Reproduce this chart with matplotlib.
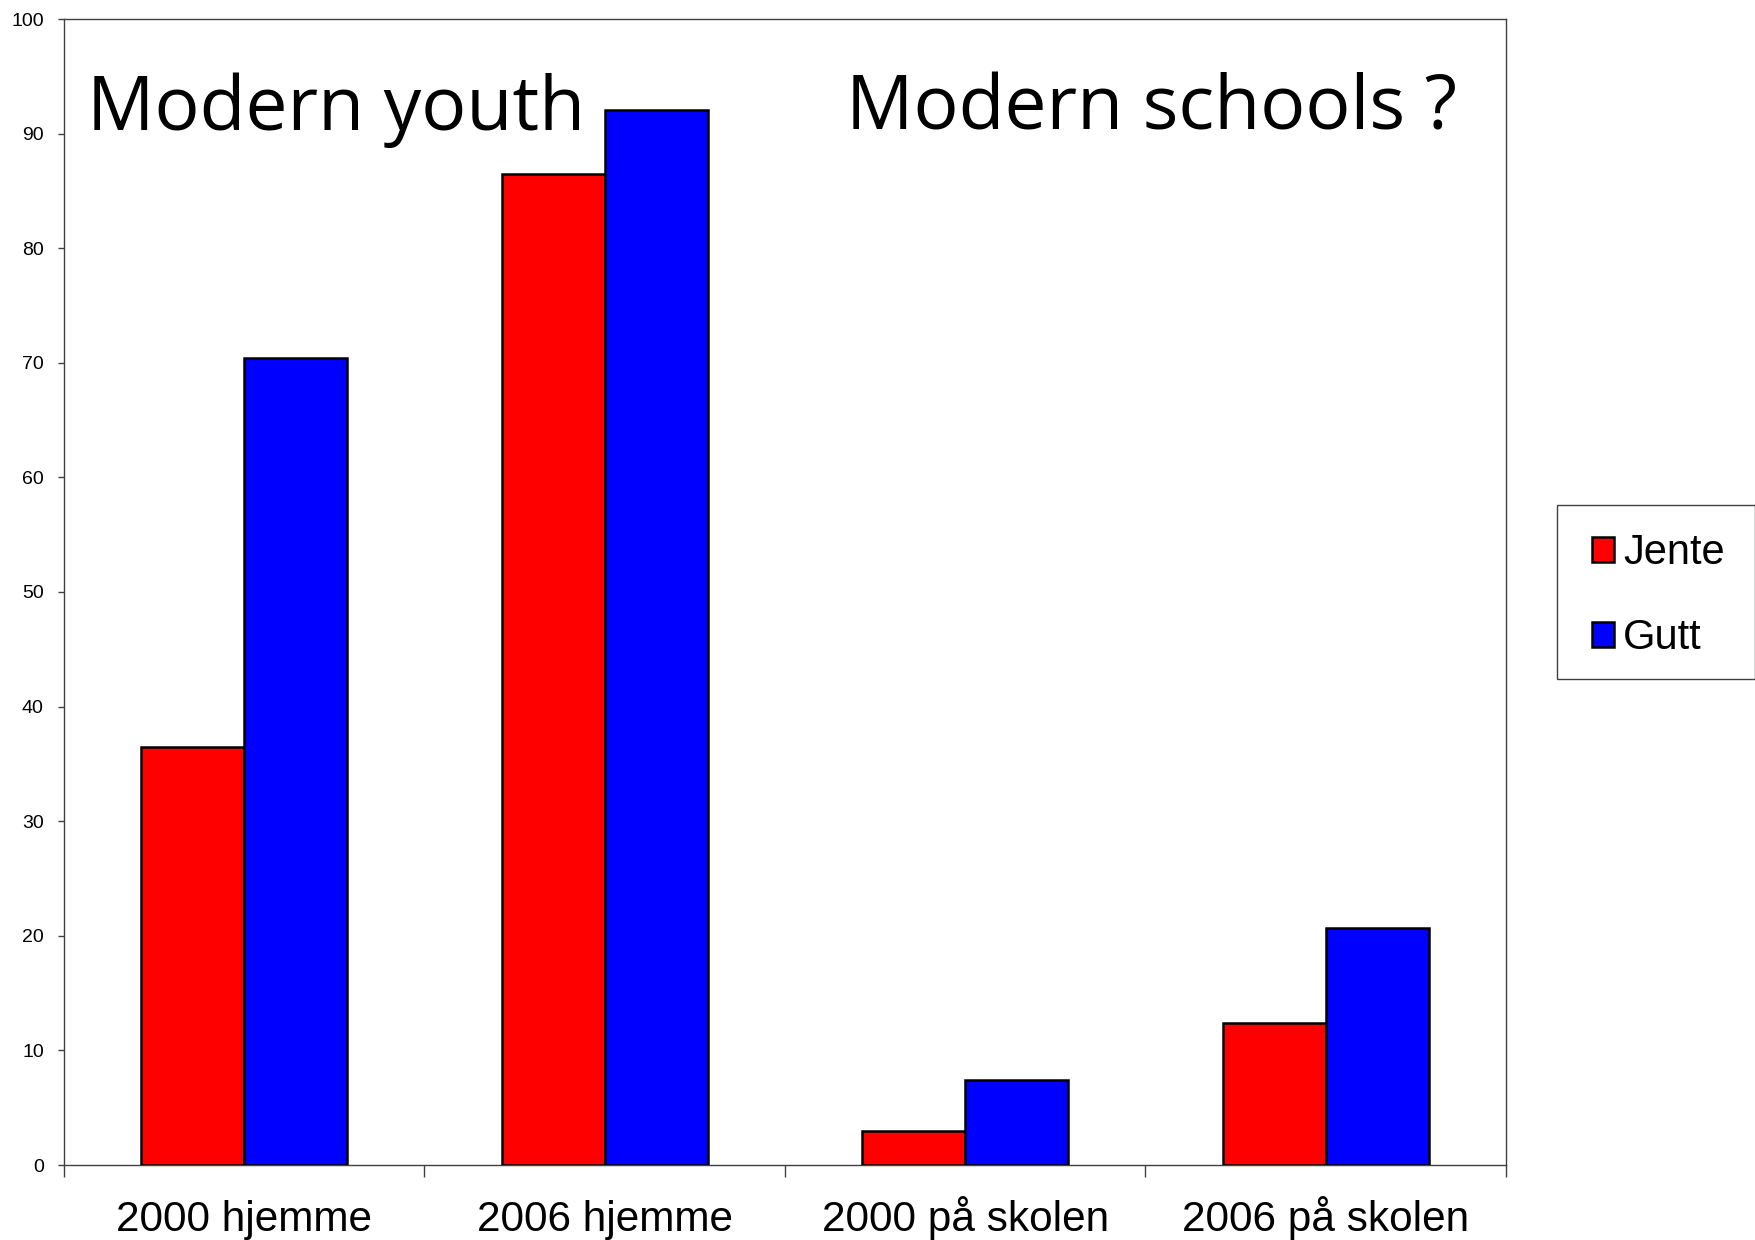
import numpy as np
import matplotlib
matplotlib.use("Agg")
import matplotlib.pyplot as plt
from matplotlib.patches import Rectangle

categories = ["2000 hjemme", "2006 hjemme", "2000 på skolen", "2006 på skolen"]
jente = [36.5, 86.5, 3.0, 12.4]
gutt = [70.4, 92.1, 7.4, 20.7]
series_names = ["Jente", "Gutt"]
yticks = list(range(0, 101, 10))

plt.rcParams['font.family'] = ['Liberation Sans', 'DejaVu Sans']

W, H = 1756, 1240
fig = plt.figure(figsize=(W / 100, H / 100), dpi=100)
ax = fig.add_axes([64 / W, (H - 1165) / H, (1506 - 64) / W, (1165 - 19) / H])

x = np.arange(len(categories))
w = 1 / 3.5
ax.bar(x - w / 2, jente, w, color="#ff0000", edgecolor="black", linewidth=1.8,
       label=series_names[0], zorder=3)
ax.bar(x + w / 2, gutt, w, color="#0000ff", edgecolor="black", linewidth=1.8,
       label=series_names[1], zorder=3)

ax.set_xlim(-0.5, len(categories) - 0.5)
ax.set_ylim(0, 100)
ax.set_yticks(yticks)
ax.tick_params(axis="y", labelsize=14, length=4.5, width=1, color="#404040", pad=10)

ax.set_xticks(x)
ax.set_xticklabels(categories, va="baseline")
ax.tick_params(axis="x", which="major", length=0, labelsize=30.5, pad=47.5)
ax.set_xticks(np.arange(-0.5, len(categories)), minor=True)
ax.tick_params(axis="x", which="minor", length=8.6, width=1, color="#404040")

for s in ax.spines.values():
    s.set_color("#404040")
    s.set_linewidth(1.0)

fig.text(87 / W, 1 - 130 / H, "Modern youth", fontsize=54, family="Open Sans",
         ha="left", va="baseline")
fig.text(846 / W, 1 - 130 / H, "Modern schools ?", fontsize=54, family="Open Sans",
         ha="left", va="baseline")

# legend frame drawn separately so the box can match the original size
fig.patches.append(Rectangle((1557 / W, 1 - 679 / H), (1755 - 1557) / W, (679 - 505) / H,
                             transform=fig.transFigure, facecolor="white",
                             edgecolor="#404040", linewidth=1.0, zorder=1))
leg = fig.legend(loc="upper left", bbox_to_anchor=(1592 / W, 1 - 533 / H),
                 fontsize=30, frameon=False, handlelength=0.53,
                 handleheight=0.53, handletextpad=0.22, labelspacing=1.08,
                 borderpad=0, borderaxespad=0)
leg.set_zorder(2)

fig.savefig("out.png", dpi=100)
